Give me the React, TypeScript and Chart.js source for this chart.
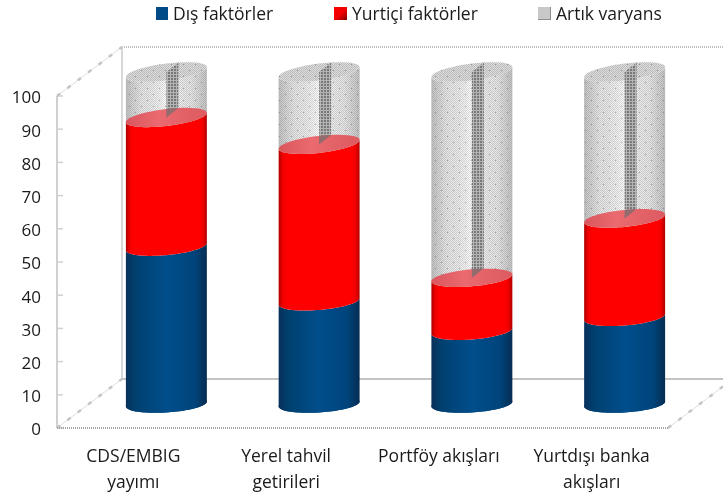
import React, { useEffect, useRef } from "react";
import { Chart, registerables } from "chart.js";

Chart.register(...registerables);

const categories: string[][] = [["CDS/EMBIG", "yayımı"], ["Yerel tahvil", "getirileri"], ["Portföy akışları"], ["Yurtdışı banka", "akışları"]];
const disFaktorler = [47.4, 30.9, 22.0, 26.2];
const yurticiFaktorler = [38.9, 47.3, 16.0, 29.7];
const artikVaryans = [13.7, 21.8, 62.0, 44.1];
const yTicks = [0, 10, 20, 30, 40, 50, 60, 70, 80, 90, 100];

const FONT = '"Open Sans", sans-serif';
const TEXT = "#1a1a1a";
const DEPTH_X = 65;
const DEPTH_Y = 49;
const CYL_DX = 33;
const CYL_DY = -24;
const RY = 8.5;

function makeTile(size: number, paint: (c: CanvasRenderingContext2D) => void) {
  const cv = document.createElement("canvas");
  cv.width = size;
  cv.height = size;
  paint(cv.getContext("2d")!);
  return cv;
}
const shellTile = () =>
  makeTile(12, (c) => {
    c.fillStyle = "#f8f8f8";
    c.fillRect(0, 0, 12, 12);
    c.fillStyle = "#d0d0d0";
    for (let y = 0; y < 12; y++) for (let x = 0; x < 12; x++) if ((x + y) % 2 === 0) c.fillRect(x, y, 1, 1);
    c.fillStyle = "#a0a0a0";
    c.fillRect(3, 4, 1, 1);
    c.fillRect(9, 10, 1, 1);
  });
const stripTile = () =>
  makeTile(3, (c) => {
    c.fillStyle = "#b4b4b4";
    c.fillRect(0, 0, 3, 3);
    c.fillStyle = "#787878";
    c.fillRect(0, 0, 2, 2);
  });

function tiltAt(y: number) {
  return 2.5 + (2.5 * (404 - y)) / 332;
}
function arc(ctx: CanvasRenderingContext2D, cx: number, rx: number, y0: number, from: number, to: number, first: boolean) {
  const tilt = tiltAt(y0);
  const n = 48;
  for (let i = 0; i <= n; i++) {
    const t = from + ((to - from) * i) / n;
    const x = cx + rx * Math.cos(t);
    const y = y0 + RY * Math.sin(t) - tilt * Math.cos(t);
    if (first && i === 0) ctx.moveTo(x, y);
    else ctx.lineTo(x, y);
  }
}
function bodyPath(ctx: CanvasRenderingContext2D, cx: number, rx: number, yB: number, yT: number) {
  ctx.beginPath();
  arc(ctx, cx, rx, yB, Math.PI, 0, true);
  arc(ctx, cx, rx, yT, 0, Math.PI, false);
  ctx.closePath();
}
function ellipsePath(ctx: CanvasRenderingContext2D, cx: number, rx: number, y0: number) {
  ctx.beginPath();
  arc(ctx, cx, rx, y0, 0, Math.PI * 2, true);
  ctx.closePath();
}
function hGrad(ctx: CanvasRenderingContext2D, cx: number, rx: number, stops: [number, string][]) {
  const g = ctx.createLinearGradient(cx - rx, 0, cx + rx, 0);
  stops.forEach(([o, c]) => g.addColorStop(o, c));
  return g;
}
const BLUE: [number, string][] = [[0, "#08305a"], [0.12, "#00406f"], [0.5, "#004e8c"], [0.85, "#00447a"], [1, "#062c52"]];
const RED: [number, string][] = [[0, "#b00000"], [0.05, "#f00000"], [0.1, "#ff0000"], [0.9, "#ff0000"], [0.95, "#f00000"], [1, "#b00000"]];
const LID: [number, string][] = [[0, "#d9565c"], [0.4, "#ea6a70"], [1, "#dc5a60"]];
const SIDE: [number, string][] = [[0, "rgba(120,120,120,.42)"], [0.2, "rgba(140,140,140,.14)"], [0.5, "rgba(255,255,255,.3)"], [0.8, "rgba(140,140,140,.14)"], [1, "rgba(120,120,120,.42)"]];

const tickNudgePlugin = {
  id: "tickNudge",
  beforeDraw(chart: any) {
    chart.scales.y.getLabelItems(chart.chartArea).forEach((item: any) => {
      const [x, y] = item.options.translation;
      if (!item.nudged) {
        item.options.translation = [x, y + 2.5];
        item.nudged = true;
      }
    });
  },
};

const framePlugin = {
  id: "frame3d",
  beforeDatasetsDraw(chart: any) {
    const { ctx, chartArea: a, scales } = chart;
    const line = (x1: number, y1: number, x2: number, y2: number, color: string, w: number, dash: number[]) => {
      ctx.beginPath();
      ctx.strokeStyle = color;
      ctx.lineWidth = w;
      ctx.setLineDash(dash);
      ctx.moveTo(x1, y1);
      ctx.lineTo(x2, y2);
      ctx.stroke();
    };
    const diagonal = (x1: number, y1: number, x2: number, y2: number) => {
      line(x1, y1, x2, y2, "#dedede", 1, []);
      line(x1, y1, x2, y2, "#c4c4c4", 2.5, [4, 9]);
    };
    ctx.save();
    line(a.left + DEPTH_X, a.top - DEPTH_Y, 723, a.top - DEPTH_Y, "#c0c0c0", 2, [1, 1]);
    line(a.left + DEPTH_X, a.top - DEPTH_Y, a.left + DEPTH_X, a.bottom - DEPTH_Y, "#d8d8d8", 2, []);
    line(a.left + DEPTH_X, a.bottom - DEPTH_Y, 723, a.bottom - DEPTH_Y, "#b0b0b0", 1.5, []);
    line(a.left, a.top, a.left, a.bottom, "#d0d0d0", 2, []);
    yTicks.forEach((t) => {
      const y = scales.y.getPixelForValue(t);
      line(a.left, y, a.left + 6, y, "#d0d0d0", 1.5, []);
    });
    diagonal(a.left, a.top, a.left + DEPTH_X, a.top - DEPTH_Y);
    diagonal(a.left, a.bottom, a.left + DEPTH_X, a.bottom - DEPTH_Y);
    diagonal(a.right, a.bottom, a.right + DEPTH_X, a.bottom - DEPTH_Y);
    line(a.left, a.bottom, a.right, a.bottom, "#a4a4a4", 2, [1, 1]);
    ctx.restore();
  },
};

const cylinderPlugin = {
  id: "cylinders",
  afterDatasetsDraw(chart: any) {
    const ctx: CanvasRenderingContext2D = chart.ctx;
    const shell = ctx.createPattern(shellTile(), "repeat")!;
    const strip = ctx.createPattern(stripTile(), "repeat")!;
    const metaB = chart.getDatasetMeta(0).data;
    const metaR = chart.getDatasetMeta(1).data;
    const metaG = chart.getDatasetMeta(2).data;
    ctx.save();
    ctx.setLineDash([]);
    metaB.forEach((b: any, i: number) => {
      const r = metaR[i];
      const g = metaG[i];
      const cx = b.x + CYL_DX;
      const rx = b.width / 2;
      const y0 = b.base + CYL_DY;
      const y1 = b.y + CYL_DY;
      const y2 = r.y + CYL_DY;
      const y3 = g.y + CYL_DY;

      // Residual shell, with its lid
      bodyPath(ctx, cx, rx, y2, y3);
      ctx.fillStyle = shell;
      ctx.fill();
      ctx.fillStyle = hGrad(ctx, cx, rx, SIDE);
      ctx.fill();
      ellipsePath(ctx, cx, rx, y3);
      ctx.fillStyle = shell;
      ctx.fill();
      ctx.fillStyle = "rgba(110,110,110,.2)";
      ctx.fill();

      // Inner strip of the residual
      ctx.beginPath();
      ctx.moveTo(cx, y2);
      ctx.lineTo(cx + 12, y2 - 9.5);
      ctx.lineTo(cx + 12, y3 - 9.5);
      ctx.lineTo(cx, y3);
      ctx.closePath();
      ctx.fillStyle = strip;
      ctx.fill();

      // Foreign factors
      bodyPath(ctx, cx, rx, y0, y1);
      ctx.fillStyle = hGrad(ctx, cx, rx, BLUE);
      ctx.fill();
      ellipsePath(ctx, cx, rx, y0);
      ctx.fill();

      // Domestic factors, lower rim sits over the blue
      ctx.fillStyle = hGrad(ctx, cx, rx, RED);
      bodyPath(ctx, cx, rx, y1, y2);
      ctx.fill();
      ellipsePath(ctx, cx, rx, y2);
      ctx.fillStyle = hGrad(ctx, cx, rx, LID);
      ctx.fill();

      // Strip foot showing through the red lid
      ctx.save();
      ellipsePath(ctx, cx, rx, y2);
      ctx.clip();
      ctx.beginPath();
      ctx.moveTo(cx, y2);
      ctx.lineTo(cx + 12, y2 - 9.5);
      ctx.lineTo(cx + 12, y2 - 30);
      ctx.lineTo(cx, y2 - 30);
      ctx.closePath();
      ctx.fillStyle = "rgba(110,110,110,.7)";
      ctx.fill();
      ctx.restore();
    });

    // Legend
    const redBox = ctx.createLinearGradient(334, 7, 347, 20);
    redBox.addColorStop(0, "#ff0000");
    redBox.addColorStop(0.55, "#ee0000");
    redBox.addColorStop(1, "#800000");
    const items: { x: number; w: number; fill: any; edge?: string }[] = [
      { x: 156, w: 12, fill: "#004a87" },
      { x: 334, w: 13, fill: redBox },
      { x: 538, w: 13, fill: "#c8c8c8", edge: "#8e8e8e" },
    ];
    ctx.font = `17.5px ${FONT}`;
    ctx.textBaseline = "middle";
    ctx.textAlign = "left";
    items.forEach((it, i) => {
      ctx.fillStyle = it.fill;
      ctx.fillRect(it.x, 7, it.w, 13);
      if (it.edge) {
        ctx.fillStyle = it.edge;
        ctx.fillRect(it.x + it.w - 1, 7, 1, 13);
        ctx.fillRect(it.x, 19, it.w, 1);
      }
      ctx.fillStyle = TEXT;
      ctx.fillText(chart.data.datasets[i].label, it.x + it.w + 5, 15.5);
    });
    ctx.restore();
  },
};

export default function App() {
  const ref = useRef<HTMLCanvasElement>(null);
  useEffect(() => {
    const chart = new Chart(ref.current!, {
      type: "bar",
      data: {
        labels: categories as any,
        datasets: [
          { label: "Dış faktörler", data: disFaktorler, backgroundColor: "transparent" },
          { label: "Yurtiçi faktörler", data: yurticiFaktorler, backgroundColor: "transparent" },
          { label: "Artık varyans", data: artikVaryans, backgroundColor: "transparent" },
        ],
      },
      options: {
        animation: false,
        responsive: false,
        maintainAspectRatio: false,
        barPercentage: 1,
        categoryPercentage: 0.53,
        layout: { padding: { top: 96, right: 55, left: 0, bottom: 0 } },
        plugins: { legend: { display: false }, tooltip: { enabled: false }, title: { display: false } },
        scales: {
          x: {
            stacked: true,
            grid: { display: false, drawTicks: false },
            border: { display: false },
            ticks: { color: TEXT, font: { family: FONT, size: 17.5, lineHeight: 1.43 }, maxRotation: 0, autoSkip: false, padding: 17 },
            afterFit(s: any) { s.height = 65; },
          },
          y: {
            stacked: true,
            min: 0,
            max: 100,
            afterBuildTicks(s: any) { s.ticks = yTicks.map((value) => ({ value })); },
            grid: { display: false, drawTicks: false },
            border: { display: false },
            ticks: { color: TEXT, font: { family: FONT, size: 17 }, padding: 16 },
            afterFit(s: any) { s.width = 57; },
          },
        },
      } as any,
      plugins: [tickNudgePlugin, framePlugin, cylinderPlugin],
    });
    return () => chart.destroy();
  }, []);
  return (
    <div style={{ position: "fixed", left: 0, top: 0, width: 723, height: 493, background: "#fff" }}>
      <canvas ref={ref} width={723} height={493} style={{ display: "block" }} />
    </div>
  );
}
